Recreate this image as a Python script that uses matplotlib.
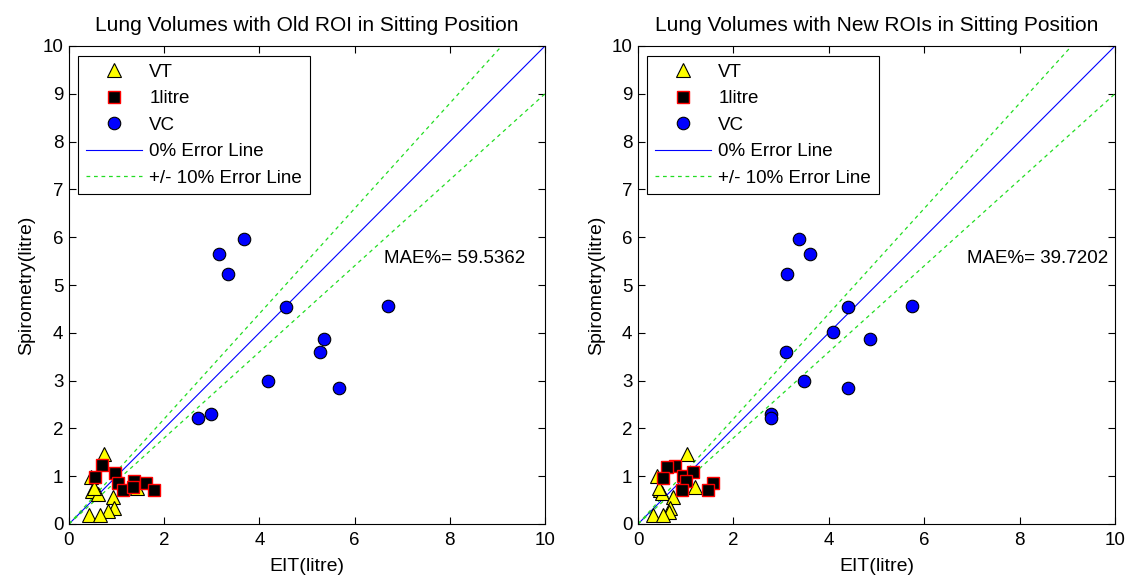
import numpy as np
import matplotlib
matplotlib.use("Agg")
import matplotlib.pyplot as plt

plt.rcParams['font.family'] = ['Liberation Sans', 'DejaVu Sans']

titles = ["Lung Volumes with Old ROI in Sitting Position",
          "Lung Volumes with New ROIs in Sitting Position"]
mae_values = [59.5362, 39.7202]

# VT (tidal volume) points: EIT, Spirometry
vt_eit_old = [0.74, 0.46, 0.48, 0.60, 0.93, 0.95, 0.81, 0.43, 0.65, 1.42, 0.52]
vt_spi_old = [1.46, 0.99, 0.68, 0.62, 0.57, 0.33, 0.28, 0.19, 0.19, 0.75, 0.75]
vt_eit_new = [1.03, 0.40, 0.46, 0.50, 0.74, 1.19, 0.67, 0.64, 0.32, 0.53, 0.45]
vt_spi_new = [1.46, 1.00, 0.71, 0.64, 0.56, 0.78, 0.33, 0.26, 0.19, 0.19, 0.75]

# 1 litre points
l1_eit_old = [0.69, 0.55, 0.97, 1.02, 1.14, 1.37, 1.62, 1.79, 1.35]
l1_spi_old = [1.23, 0.98, 1.07, 0.86, 0.71, 0.91, 0.85, 0.71, 0.78]
l1_eit_new = [0.78, 0.60, 0.53, 0.95, 1.16, 1.00, 0.92, 1.58, 1.47]
l1_spi_new = [1.21, 1.20, 0.96, 1.00, 1.08, 0.89, 0.71, 0.85, 0.71]

# VC points
vc_eit_old = [3.68, 3.15, 3.35, 4.56, 6.70, 5.36, 5.27, 4.19, 5.67, 2.98, 2.72]
vc_spi_old = [5.96, 5.64, 5.22, 4.53, 4.56, 3.88, 3.60, 2.99, 2.84, 2.31, 2.22]
vc_eit_new = [3.38, 3.61, 3.12, 4.40, 5.75, 4.08, 4.87, 3.10, 3.47, 4.40, 2.78, 2.78]
vc_spi_new = [5.96, 5.64, 5.22, 4.53, 4.56, 4.02, 3.88, 3.60, 2.99, 2.84, 2.31, 2.22]

panels = [
    (vt_eit_old, vt_spi_old, l1_eit_old, l1_spi_old, vc_eit_old, vc_spi_old),
    (vt_eit_new, vt_spi_new, l1_eit_new, l1_spi_new, vc_eit_new, vc_spi_new),
]

fig = plt.figure(figsize=(11.29, 5.8), dpi=100)
W, H = 1129, 580
axes_px = [(69, 46, 545, 524), (638, 46, 1115, 524)]
mae_x = [6.62, 6.90]

for i, (vx, vy, lx, ly, cx, cy) in enumerate(panels):
    x0, y0, x1, y1 = axes_px[i]
    ax = fig.add_axes([x0 / W, 1 - y1 / H, (x1 - x0) / W, (y1 - y0) / H])
    ax.plot(vx, vy, linestyle='none', marker='^', markersize=9.5,
            markerfacecolor='yellow', markeredgecolor='black', markeredgewidth=0.8,
            label='VT', zorder=3)
    ax.plot(lx, ly, linestyle='none', marker='s', markersize=8.5,
            markerfacecolor='black', markeredgecolor='red', markeredgewidth=1.0,
            label='1litre', zorder=4)
    ax.plot(cx, cy, linestyle='none', marker='o', markersize=9,
            markerfacecolor='blue', markeredgecolor='black', markeredgewidth=0.8,
            label='VC', zorder=4)
    xs = np.array([0, 10])
    ax.plot(xs, xs, color='blue', linewidth=0.8, label='0% Error Line', zorder=2)
    ax.plot(xs, 1.1 * xs, color='#22dd22', linestyle=(0, (3, 3)), linewidth=0.9,
            label='+/- 10% Error Line', zorder=2)
    ax.plot(xs, 0.9 * xs, color='#22dd22', linestyle=(0, (3, 3)), linewidth=0.9, zorder=2)
    ax.set_xlim(0, 10)
    ax.set_ylim(0, 10)
    ax.set_xticks(range(0, 11, 2))
    ax.set_yticks(range(0, 11, 1))
    ax.tick_params(direction='in', top=True, right=True, labelsize=13.5, length=5)
    ax.tick_params(axis='x', pad=6)
    ax.tick_params(axis='y', pad=4)
    ax.set_xlabel('EIT(litre)', fontsize=14, labelpad=6)
    ax.set_ylabel('Spirometry(litre)', fontsize=14, labelpad=5)
    ax.set_title(titles[i], fontsize=15, pad=11)
    ax.text(mae_x[i], 5.56, 'MAE%= ' + '{:.4f}'.format(mae_values[i]),
            fontsize=13.5, va='center', ha='left')
    leg = ax.legend(loc='upper left', bbox_to_anchor=(0.019, 0.979), fontsize=13.5,
                    fancybox=False, edgecolor='black', framealpha=1,
                    handlelength=3.0, borderpad=0.4, labelspacing=0.5,
                    handletextpad=0.4, borderaxespad=0)
    leg.get_frame().set_linewidth(0.8)
    for s in ax.spines.values():
        s.set_linewidth(0.8)

fig.savefig('out.png', dpi=100)
